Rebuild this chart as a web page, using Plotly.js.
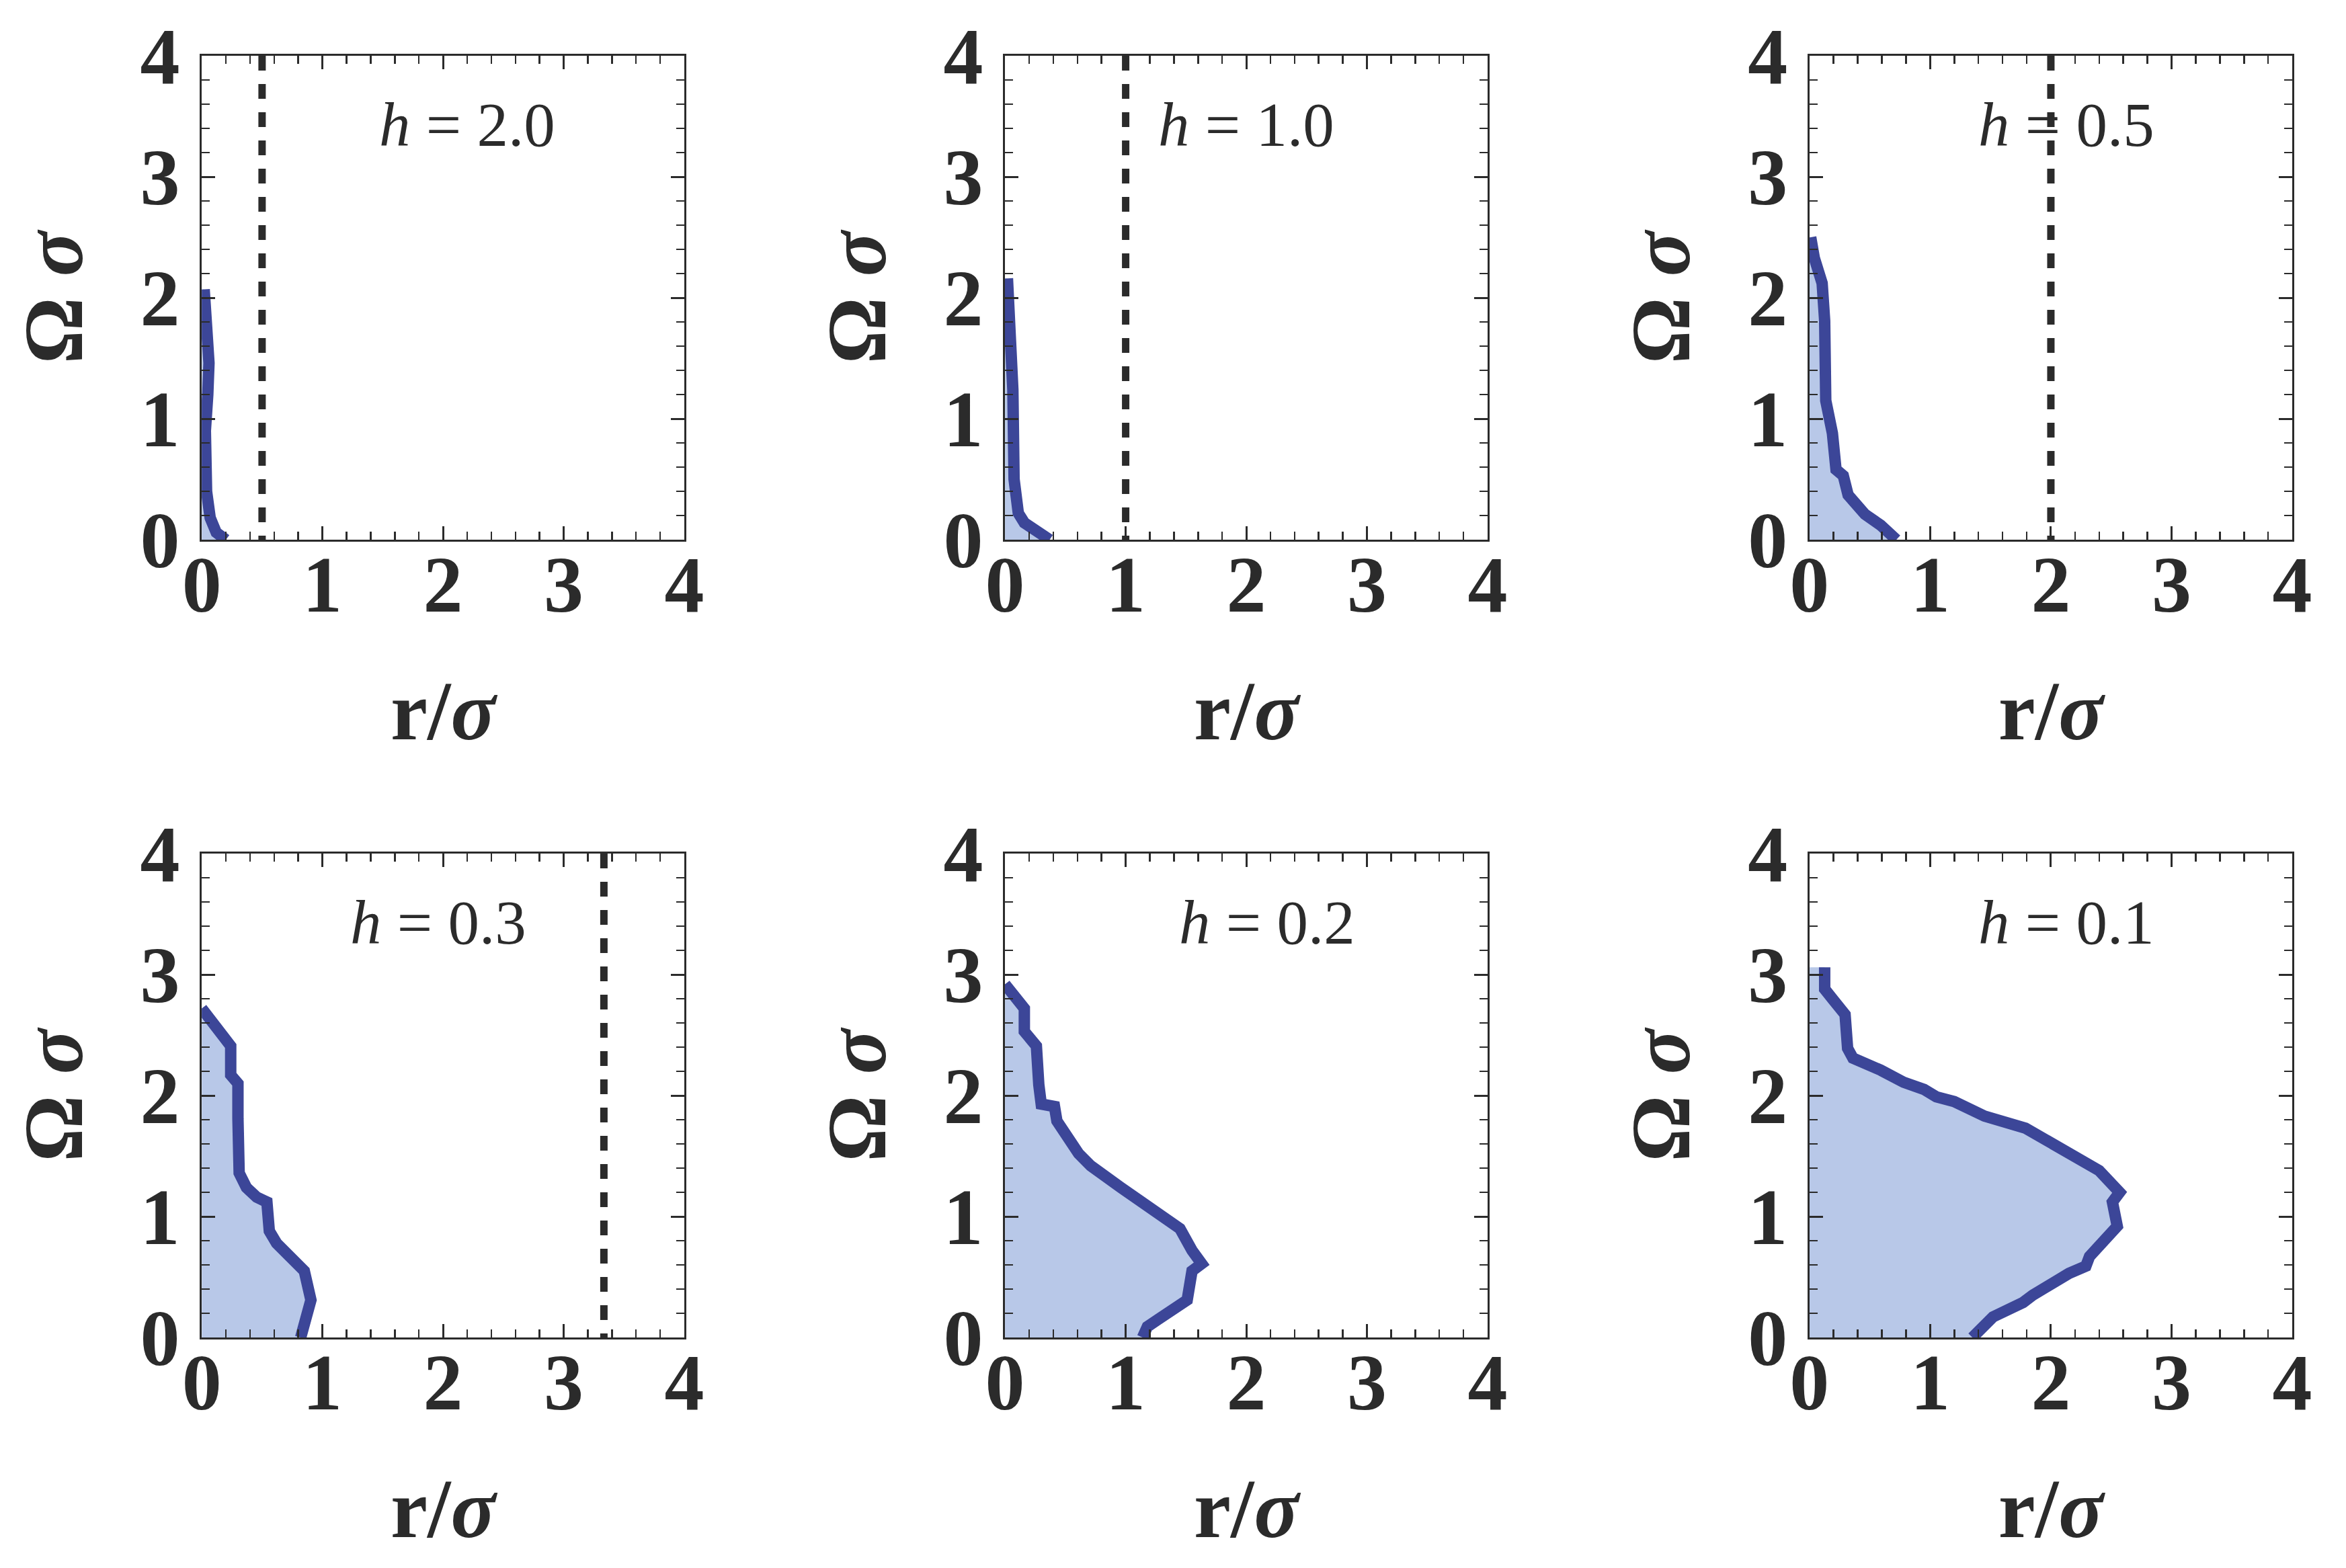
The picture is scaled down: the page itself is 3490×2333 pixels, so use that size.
<!DOCTYPE html>
<html>
<head>
<meta charset="utf-8">
<script src="https://cdn.plot.ly/plotly-3.0.1.min.js"></script>
<style>
  html, body { margin: 0; padding: 0; background: #fff; }
  #graf { width: 3490px; height: 2333px; }
</style>
</head>
<body>
<div id="graf"></div>
<script>
// coupling values, one per panel
var hodnotyH = [2.0, 1.0, 0.5, 0.3, 0.2, 0.1];
var popisyH = ['2.0', '1.0', '0.5', '0.3', '0.2', '0.1'];

// boundary curves r/sigma vs Omega*sigma
var rH20 = [0.02, 0.04, 0.06, 0.05, 0.03, 0.04, 0.07, 0.12, 0.2];
var omH20 = [2.07, 1.8, 1.46, 1.2, 0.9, 0.4, 0.18, 0.06, 0.0];

var rH10 = [0.02, 0.03, 0.05, 0.065, 0.075, 0.085, 0.11, 0.16, 0.29, 0.37];
var omH10 = [2.16, 2.0, 1.79, 1.24, 0.5, 0.33, 0.22, 0.14, 0.06, 0.0];

var rH05 = [0.01, 0.04, 0.105, 0.126, 0.135, 0.19, 0.22, 0.28, 0.32, 0.38, 0.46, 0.59, 0.72];
var omH05 = [2.5, 2.33, 2.12, 1.81, 1.15, 0.88, 0.58, 0.53, 0.37, 0.29, 0.21, 0.12, 0.0];

var rH03 = [0.0, 0.148, 0.24, 0.24, 0.30, 0.30, 0.31, 0.37, 0.455, 0.54, 0.56, 0.62, 0.76, 0.85, 0.905, 0.82];
var omH03 = [2.72, 2.53, 2.41, 2.17, 2.10, 1.81, 1.36, 1.24, 1.16, 1.12, 0.88, 0.78, 0.63, 0.55, 0.31, 0.0];

var rH02 = [0.0, 0.16, 0.16, 0.26, 0.28, 0.30, 0.41, 0.43, 0.61, 0.71, 0.96, 1.20, 1.45, 1.55, 1.63, 1.55, 1.51, 1.27, 1.18, 1.14];
var omH02 = [2.92, 2.72, 2.53, 2.41, 2.09, 1.93, 1.91, 1.79, 1.52, 1.42, 1.24, 1.08, 0.90, 0.72, 0.61, 0.55, 0.31, 0.15, 0.09, 0.0];

var rH01 = [0.126, 0.126, 0.19, 0.295, 0.316, 0.36, 0.59, 0.78, 0.95, 1.05, 1.20, 1.45, 1.79, 2.11, 2.40, 2.57, 2.51, 2.55, 2.44, 2.32, 2.29, 2.15, 1.85, 1.77, 1.52, 1.45, 1.35];
var omH01 = [3.06, 2.88, 2.80, 2.67, 2.39, 2.31, 2.21, 2.11, 2.05, 1.99, 1.95, 1.83, 1.73, 1.56, 1.38, 1.20, 1.12, 0.92, 0.80, 0.67, 0.59, 0.53, 0.35, 0.29, 0.17, 0.09, 0.0];

// where the "h = ..." label sits in each panel
var popisX = [2.2, 2.0, 2.13, 1.96, 2.17, 2.13];
var popisY = [3.43, 3.43, 3.43, 3.43, 3.43, 3.43];

var krivkyR = [rH20, rH10, rH05, rH03, rH02, rH01];
var krivkyOm = [omH20, omH10, omH05, omH03, omH02, omH01];

var farbaCiary = 'rgb(60, 70, 152)';
var farbaVyplne = 'rgb(184, 200, 232)';
var farbaOs = '#2b2b2b';
var pismo = 'Liberation Serif, Times New Roman, serif';

var xDomeny = [[0.0860, 0.2917], [0.4284, 0.6341], [0.7713, 0.9771]];
var yDomeny = [[0.6558, 0.9644], [0.1470, 0.4556]];

var traces = [];
var layout = {
    width: 3490,
    height: 2333,
    margin: {l: 0, r: 0, t: 0, b: 0},
    paper_bgcolor: 'white',
    plot_bgcolor: 'white',
    showlegend: false,
    annotations: []
};

function nastavOs(domena, kotva, titul, jeX) {
    return {
        domain: domena,
        anchor: kotva,
        range: [0, 4],
        tickvals: [0, 1, 2, 3, 4],
        ticktext: ['0', '1', '2', '3', '4'],
        ticks: 'inside',
        ticklen: 20,
        tickwidth: 3,
        tickcolor: farbaOs,
        minor: {dtick: 0.2, ticks: 'inside', ticklen: 12, tickwidth: 2.5, tickcolor: farbaOs, showgrid: false},
        showline: true,
        mirror: 'ticks',
        linecolor: farbaOs,
        linewidth: 3,
        showgrid: false,
        zeroline: false,
        fixedrange: true,
        tickfont: {family: pismo, size: 118, color: farbaOs, weight: 'bold'},
        ticklabelstandoff: jeX ? -38 : 6,
        automargin: false,
        title: {
            text: titul,
            standoff: jeX ? 79 : 45,
            font: {family: pismo, size: 124, color: farbaOs}
        }
    };
}

for (var i = 0; i < hodnotyH.length; i++) {
    var stlpec = i % 3;
    var riadok = Math.floor(i / 3);
    var n = i === 0 ? '' : String(i + 1);
    var xa = 'x' + n;
    var ya = 'y' + n;

    traces.push({
        x: krivkyR[i],
        y: krivkyOm[i],
        xaxis: xa,
        yaxis: ya,
        type: 'scatter',
        mode: 'lines',
        fill: 'tozerox',
        fillcolor: farbaVyplne,
        line: {color: farbaCiary, width: 17},
        hoverinfo: 'skip'
    });

    // dashed line at r = 1/h, drawn from the top so the dash pattern starts there
    var rc = 1 / hodnotyH[i];
    if (rc <= 4) {
        traces.push({
            x: [rc, rc],
            y: [4, 0],
            xaxis: xa,
            yaxis: ya,
            type: 'scatter',
            mode: 'lines',
            line: {color: farbaOs, width: 11, dash: '22px,20px'},
            hoverinfo: 'skip'
        });
    }

    layout['xaxis' + n] = nastavOs(xDomeny[stlpec], ya, '<b>r/<i>σ</i></b>', true);
    layout['yaxis' + n] = nastavOs(yDomeny[riadok], xa, '<b>Ω <i>σ</i></b>', false);

    layout.annotations.push({
        x: popisX[i],
        y: popisY[i],
        xref: xa,
        yref: ya,
        text: '<i>h</i> = ' + popisyH[i],
        showarrow: false,
        xanchor: 'center',
        yanchor: 'middle',
        font: {family: pismo, size: 93, color: farbaOs}
    });
}

Plotly.newPlot('graf', traces, layout, {staticPlot: true, displayModeBar: false});
</script>
</body>
</html>
